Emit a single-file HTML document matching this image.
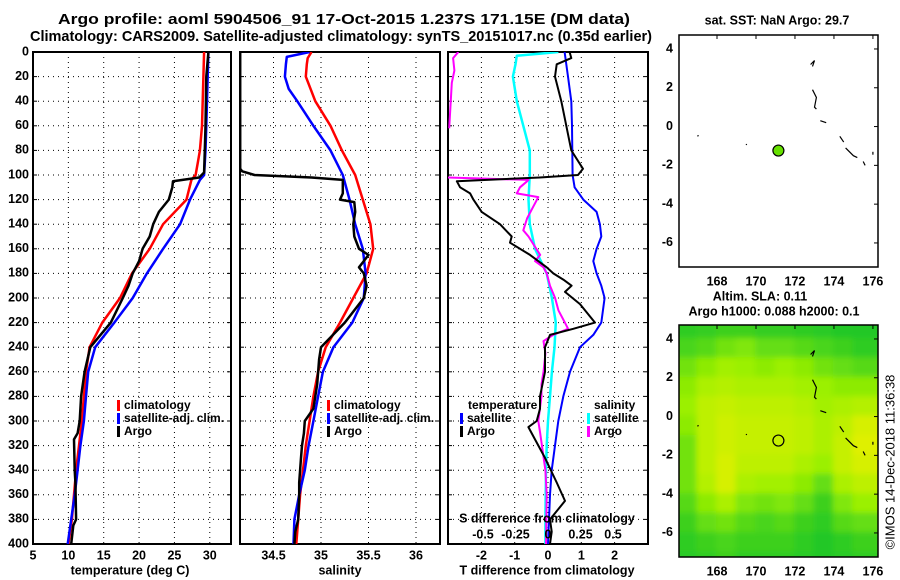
<!DOCTYPE html>
<html><head><meta charset="utf-8"><style>
body{margin:0;background:#fff}
svg{display:block;font-family:"Liberation Sans",sans-serif;font-weight:bold}
</style></head><body>
<svg id="c" width="900" height="580" viewBox="0 0 900 580">
<defs>
<clipPath id="cp1"><rect x="33" y="52" width="198" height="492"/></clipPath>
<clipPath id="cp2"><rect x="240" y="52" width="200" height="492"/></clipPath>
<clipPath id="cp3"><rect x="448" y="52" width="200" height="492"/></clipPath>
<clipPath id="cpm"><rect x="679" y="325" width="199" height="232"/></clipPath>
<filter id="blur" x="-0.1" y="-0.1" width="1.2" height="1.2"><feGaussianBlur stdDeviation="3"/></filter>
</defs>
<g id="root"></g>
</svg>
<script>
// ---- data ----
const depthTicks=[0,20,40,60,80,100,120,140,160,180,200,220,240,260,280,300,320,340,360,380,400];
const tempTicks=[5,10,15,20,25,30];
const salTicks=[34.5,35,35.5,36];
const tdiffTicks=[-2,-1,0,1,2];
const sdiffTicks=[-0.5,-0.25,0,0.25,0.5];
const sdiffLabels=["-0.5","-0.25","0","0.25","0.5"];

const tClimDepth=[0,20,60,80,90,100,104,120,140,160,180,200,220,240,260,280,300,320,340,360,380,400];
const tClimVal=[29.2,29.1,28.9,28.6,28.3,28,27.4,26.7,23.4,21.5,19,17.3,14.8,13,12.5,12.2,11.9,11.5,11.1,10.8,10.5,10.0];
const tSatDepth=[0,20,60,80,100,104,120,140,160,180,200,220,240,260,280,300,320,340,360,380,400];
const tSatVal=[29.8,29.7,29.5,29.4,29.2,28.6,27.2,25.8,23.4,21.1,19.1,16.5,13.8,12.8,12.5,12.2,11.7,11.3,10.9,10.4,9.9];
const tArgoDepth=[0,20,60,80,98,102,105,110,120,130,140,150,160,170,180,190,200,220,240,260,280,300,310,315,340,350,380,385,400];
const tArgoVal=[29.8,29.5,29.4,29.3,29.2,28.5,24.8,24.7,24.2,22.8,22.0,21.5,20.5,20.0,19.1,18.5,17.7,16.0,13.1,12.3,11.8,11.6,11.3,10.8,10.9,11.0,11.1,10.7,10.4];

const sClimDepth=[0,5,10,20,40,60,80,100,120,140,160,180,200,220,240,260,280,300,320,340,360,380,400];
const sClimVal=[34.9,34.86,34.85,34.84,34.94,35.1,35.22,35.36,35.44,35.52,35.55,35.48,35.34,35.2,35.05,34.97,34.92,34.88,34.84,34.81,34.78,34.76,34.74];
const sSatDepth=[0,4,10,20,30,40,60,80,100,120,140,160,180,200,220,240,260,280,300,320,340,360,380,400];
const sSatVal=[34.88,34.64,34.63,34.62,34.66,34.75,34.92,35.1,35.23,35.3,35.36,35.44,35.47,35.45,35.33,35.13,35.02,34.97,34.92,34.87,34.83,34.77,34.72,34.71];
const sArgoDepth=[0,95,97,100,102,104,115,120,122,130,140,150,160,165,170,175,180,190,200,220,240,250,270,290,300,310,320,330,350,360,380,390,400];
const sArgoVal=[34.15,34.15,34.17,34.3,34.9,35.23,35.23,35.2,35.35,35.36,35.34,35.35,35.4,35.5,35.45,35.4,35.45,35.48,35.45,35.25,35.0,34.98,34.96,34.92,34.83,34.82,34.8,34.79,34.77,34.77,34.76,34.73,34.72];

const dTSatDepth=[0,20,40,60,80,100,110,120,130,140,150,160,170,180,190,200,220,230,240,260,280,300,320,340,360,380,400];
const dTSatVal=[0.5,0.6,0.7,0.72,0.73,0.74,0.8,1.06,1.46,1.56,1.6,1.46,1.36,1.46,1.6,1.7,1.6,1.36,0.96,0.66,0.46,0.31,0.21,0.11,0.06,0.03,0.0];
const dTArgoDepth=[0,5,10,20,40,60,80,95,100,102,105,110,115,120,130,140,150,155,165,175,180,185,190,195,205,220,225,230,240,260,280,290,300,305,315,330,350,365,380,390,400];
const dTArgoVal=[0.65,0.7,0.26,0.21,0.4,0.55,0.7,1.05,0.9,-0.25,-2.74,-2.64,-2.34,-2.24,-1.99,-1.44,-1.09,-1.14,-0.54,-0.04,0.16,0.46,0.71,0.51,0.96,1.41,0.76,0.06,-0.09,-0.09,-0.24,-0.24,-0.34,-0.59,-0.39,-0.09,0.26,0.51,0.06,0.11,0.06];
const dSSatDepth=[0,3,10,20,40,60,80,100,120,140,160,180,200,220,240,260,280,300,320,340,380,400];
const dSSatVal=[0.08,-0.24,-0.25,-0.27,-0.24,-0.19,-0.14,-0.14,-0.15,-0.14,-0.1,-0.01,0.03,0.06,0.05,0.03,0.015,0.0,-0.01,-0.015,-0.02,-0.02];
const dSArgoDepth=[0,5,15,25,62,null,102,104,105,110,115,118,125,135,145,150,160,165,170,175,180,190,200,210,220,225,230,235,245,260,270,280,300,310,340,360,400];
const dSArgoVal=[-0.69,-0.73,-0.72,-0.74,-0.76,null,-0.78,-0.15,-0.16,-0.215,-0.24,-0.075,-0.11,-0.16,-0.19,-0.15,-0.09,-0.06,-0.10,-0.035,-0.01,0.015,0.055,0.08,0.13,0.155,0.04,-0.035,-0.02,-0.035,-0.05,-0.05,-0.075,-0.06,-0.02,-0.01,-0.015];

const mapLonTicks=[168,170,172,174,176];
const mapLatTicks=[4,2,0,-2,-4,-6];
const argoLon=171.15, argoLat=-1.237;
const slaLons=[165.5,166.5,167.5,168.5,169.5,170.5,171.5,172.5,173.5,174.5,175.5,176.5];
const slaLats=[5.5,4.5,3.5,2.5,1.5,0.5,-0.5,-1.5,-2.5,-3.5,-4.5,-5.5,-6.5,-7.5];
const slaGrid=[
[0.08,0.1,0.12,0.15,0.15,0.12,0.12,0.1,0.08,0.06,0.05,0.05],
[0.08,0.1,0.12,0.15,0.15,0.12,0.12,0.1,0.08,0.06,0.05,0.05],
[0.2,0.2,0.25,0.35,0.4,0.3,0.3,0.25,0.2,0.15,0.1,0.1],
[0.35,0.35,0.45,0.55,0.5,0.45,0.5,0.45,0.35,0.3,0.25,0.25],
[0.45,0.45,0.6,0.65,0.6,0.6,0.6,0.55,0.5,0.45,0.45,0.45],
[0.5,0.5,0.7,0.75,0.7,0.7,0.7,0.65,0.55,0.6,0.65,0.65],
[0.45,0.45,0.7,0.8,0.75,0.75,0.75,0.7,0.6,0.7,0.85,0.85],
[0.35,0.35,0.7,0.8,0.75,0.75,0.75,0.7,0.6,0.75,0.9,0.9],
[0.35,0.35,0.7,0.85,0.7,0.7,0.7,0.6,0.5,0.75,0.85,0.85],
[0.35,0.35,0.65,0.85,0.6,0.55,0.55,0.45,0.3,0.6,0.7,0.7],
[0.25,0.25,0.45,0.6,0.4,0.35,0.4,0.3,0.15,0.4,0.5,0.5],
[0.15,0.15,0.3,0.35,0.25,0.2,0.25,0.15,0.1,0.25,0.3,0.3],
[0.1,0.1,0.15,0.2,0.15,0.15,0.15,0.1,0.05,0.1,0.15,0.15],
[0.08,0.08,0.1,0.15,0.1,0.1,0.1,0.08,0.05,0.08,0.1,0.1]];
const coastLon=[[172.8,173.0,172.9],[172.9,173.1,173.0,173.1],[173.3,173.6],[174.3,174.5],[174.6,175.0,175.2],[175.5,175.6],[167.0,167.05],[169.5,169.52],[176.0,176.0]];
const coastLat=[[3.2,3.4,3.1],[1.9,1.5,1.0,0.9],[0.3,0.2],[-0.5,-0.8],[-1.1,-1.5,-1.6],[-1.8,-2.0],[-0.5,-0.45],[-0.9,-0.95],[-1.3,-1.45]];

// ---- helpers ----
const NS="http://www.w3.org/2000/svg";
const root=document.getElementById('root');
function mk(tag,attrs,parent){const e=document.createElementNS(NS,tag);for(const k in attrs)e.setAttribute(k,attrs[k]);(parent||root).appendChild(e);return e;}
function txt(x,y,s,size,anchor,parent){const t=mk('text',{x:x,y:y,'font-size':size,'text-anchor':anchor||'middle','dominant-baseline':'middle'},parent);t.textContent=s;return t;}
const Y0=52,Y1=544;
const yD=d=>Y0+(d/400)*(Y1-Y0);
function lin(d0,d1,r0,r1){return v=>r0+(v-d0)/(d1-d0)*(r1-r0);}
const xT=lin(5,33,33,231);
const xS=lin(34.5,36,273.5,416);
const xDT=v=>548+v*33.3;
const xDS=v=>548+v*130;

function panel(name){
  const g=mk('g',{});
  
  
  return g;
}
function grid(g,x0,x1,vx){
  depthTicks.slice(1,-1).forEach(d=>{const l=mk('line',{x1:x0,x2:x1,y1:yD(d),y2:yD(d),stroke:'#000','stroke-width':1,'stroke-dasharray':'1,4'},g);});
  vx.forEach(x=>{const l=mk('line',{x1:x,x2:x,y1:Y0,y2:Y1,stroke:'#000','stroke-width':1,'stroke-dasharray':'1,4'},g);});
  depthTicks.forEach(d=>{mk('line',{x1:x0,x2:x0+4,y1:yD(d),y2:yD(d),stroke:'#000'},g);mk('line',{x1:x1-4,x2:x1,y1:yD(d),y2:yD(d),stroke:'#000'},g);});
  const r=mk('rect',{x:x0,y:Y0,width:x1-x0,height:Y1-Y0,fill:'none',stroke:'#000','stroke-width':2},g);
  
}
function series(g,depths,vals,xf,color,w,clip,name){
  let d='',pen=false;
  for(let i=0;i<depths.length;i++){
    if(depths[i]===null||vals[i]===null){pen=false;continue;}
    d+=(pen?'L':'M')+xf(vals[i]).toFixed(1)+','+yD(depths[i]).toFixed(1);pen=true;
  }
  const p=mk('path',{d:d,fill:'none',stroke:color,'stroke-width':w,'stroke-linejoin':'round','clip-path':'url(#'+clip+')'},g);
  
  
}
function legendEntry(g,x,y,color,label,name){
  const e=mk('g',{},g);
  
  
  mk('rect',{x:x,y:y-6,width:3,height:11,fill:color},e);
  txt(x+7,y,label,12,'start',e);
}

// titles
const t1=txt(344,20,'Argo profile: aoml 5904506_91 17-Oct-2015 1.237S 171.15E (DM data)',15);
t1.setAttribute('textLength','572');t1.setAttribute('lengthAdjust','spacingAndGlyphs');

const t2=txt(341,37,'Climatology: CARS2009. Satellite-adjusted climatology: synTS_20151017.nc (0.35d earlier)',15);
t2.setAttribute('textLength','622');t2.setAttribute('lengthAdjust','spacingAndGlyphs');


// depth labels
depthTicks.forEach(d=>{const t=txt(29,yD(d),String(d),12.5,'end');});

// panel 1
const g1=panel('temperature-panel');
grid(g1,33,231,tempTicks.slice(1).map(xT));
series(g1,tClimDepth,tClimVal,xT,'#f00',2.5,'cp1','temp-climatology-line');
series(g1,tSatDepth,tSatVal,xT,'#00f',2.5,'cp1','temp-satellite-line');
series(g1,tArgoDepth,tArgoVal,xT,'#000',2.5,'cp1','temp-argo-line');
tempTicks.forEach(v=>{const t=txt(xT(v),556,String(v),12.5);});
const xa1=txt(130,571,'temperature (deg C)',12.5);
legendEntry(g1,117,406,'#f00','climatology','legend-climatology');
legendEntry(g1,117,419,'#00f','satellite-adj. clim.','legend-satellite');
legendEntry(g1,117,432,'#000','Argo','legend-argo');

// panel 2
const g2=panel('salinity-panel');
grid(g2,240,440,salTicks.map(xS));
series(g2,sClimDepth,sClimVal,xS,'#f00',2.5,'cp2','sal-climatology-line');
series(g2,sSatDepth,sSatVal,xS,'#00f',2.5,'cp2','sal-satellite-line');
series(g2,sArgoDepth,sArgoVal,xS,'#000',2.5,'cp2','sal-argo-line');
salTicks.forEach(v=>{const t=txt(xS(v),556,String(v),12.5);});
const xa2=txt(340,571,'salinity',12.5);
legendEntry(g2,327,406,'#f00','climatology','legend-climatology');
legendEntry(g2,327,419,'#00f','satellite-adj. clim.','legend-satellite');
legendEntry(g2,327,432,'#000','Argo','legend-argo');

// panel 3
const g3=panel('difference-panel');
grid(g3,448,648,tdiffTicks.map(xDT));
series(g3,dTSatDepth,dTSatVal,xDT,'#00f',2,'cp3','tdiff-satellite-line');
series(g3,dSSatDepth,dSSatVal,xDS,'#0ff',2.5,'cp3','sdiff-satellite-line');
series(g3,dSArgoDepth,dSArgoVal,xDS,'#f0f',2,'cp3','sdiff-argo-line');
series(g3,dTArgoDepth,dTArgoVal,xDT,'#000',2,'cp3','tdiff-argo-line');
tdiffTicks.forEach(v=>{const t=txt(xDT(v),556,String(v),12.5);});
sdiffTicks.forEach((v,i)=>{const t=txt(xDS(v),535,sdiffLabels[i],12.5);});
const st=txt(547,519,'S difference from climatology',12.5);
const xa3=txt(547,571,'T difference from climatology',12.5);
const lt=txt(468,406,'temperature',12,'start',g3);
const ls=txt(594,406,'salinity',12,'start',g3);
legendEntry(g3,460,419,'#00f','satellite','legend-temp-satellite');
legendEntry(g3,460,432,'#000','Argo','legend-temp-argo');
legendEntry(g3,587,419,'#0ff','satellite','legend-sal-satellite');
legendEntry(g3,587,432,'#f0f','Argo','legend-sal-argo');

// maps
const xL=lin(166.05,176.26,679,878);
function drawMap(oy,name,withSla){
  const yL=v=>oy+35+(4.72-v)/(4.72+7.24)*232;
  const g=mk('g',{});
  
  
  if(withSla){
    const hg=mk('g',{'clip-path':'url(#cpm)'},g);
    const inner=mk('g',{filter:'url(#blur)'},hg);
    slaLats.forEach((la,i)=>slaLons.forEach((lo,j)=>{
      const v=slaGrid[i][j];
      let r,gg,b;
      if(v<0.5){const f=v/0.5;r=20+f*135;gg=195+f*45;b=45-f*45;}else{const f=(v-0.5)/0.5;r=155+f*85;gg=240;b=0;}
      const c=mk('rect',{x:xL(lo-0.5)-1,y:yL(la+0.5)-1,width:xL(1)-xL(0)+2,height:yL(0)-yL(1)+2,fill:`rgb(${r|0},${gg|0},${b|0})`},inner);
      
      
    }));
  }
  coastLon.forEach((ls,i)=>{
    let d='';ls.forEach((lo,k)=>{d+=(k?'L':'M')+xL(lo).toFixed(1)+','+yL(coastLat[i][k]).toFixed(1);});
    const p=mk('path',{d:d,fill:'none',stroke:'#000','stroke-width':1.2},g);
    
  });
  const fr=mk('rect',{x:679,y:oy+35,width:199,height:232,fill:'none',stroke:'#000','stroke-width':1.5},g);
  
  mapLonTicks.forEach(v=>{mk('line',{x1:xL(v),x2:xL(v),y1:oy+35,y2:oy+39,stroke:'#000'},g);const t=txt(xL(v),oy+282,String(v),12.5,'middle',g);});
  mapLatTicks.forEach(v=>{mk('line',{x1:874,x2:878,y1:yL(v),y2:yL(v),stroke:'#000'},g);const t=txt(673,yL(v),String(v),12.5,'end',g);});
  const m=mk('circle',{cx:xL(argoLon),cy:yL(argoLat),r:5.5,fill:withSla?'none':'#66e000',stroke:'#000','stroke-width':1.2},g);
  
}
drawMap(0,'sst-map',false);
drawMap(290,'sla-map',true);
const mt1=txt(777,21,'sat. SST: NaN Argo: 29.7',12.5);
const mt2=txt(760,297,'Altim. SLA: 0.11',12.5);
const mt3=txt(774,312,'Argo h1000: 0.088 h2000: 0.1',12.5);
const cr=mk('text',{x:0,y:0,'font-size':13,'font-weight':'normal','text-anchor':'middle','dominant-baseline':'middle',transform:'translate(891,462) rotate(-90)'});
cr.textContent='©IMOS 14-Dec-2018 11:36:38';

</script>
</body></html>
